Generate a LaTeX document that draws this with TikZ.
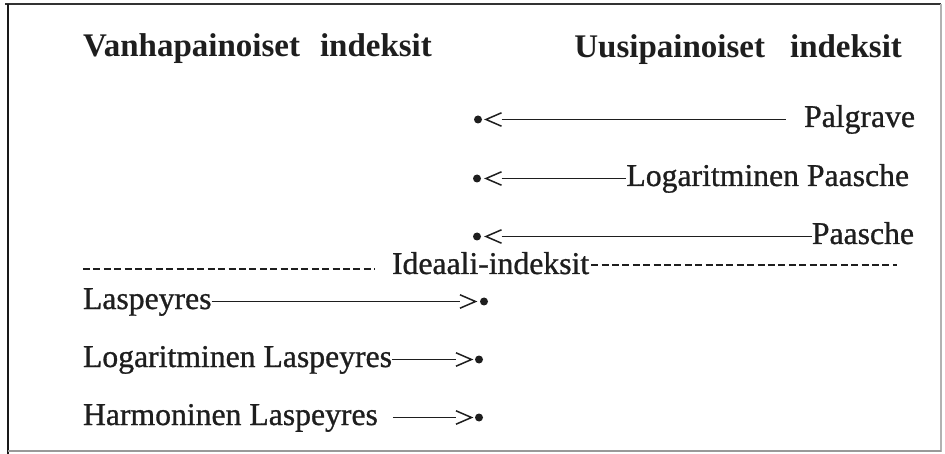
\documentclass[tikz,border=0pt]{standalone}
\usepackage{fontspec}
\setmainfont{Liberation Serif}
\newfontfamily\labelfont[FakeBold=0.9]{Liberation Serif}
\definecolor{ink}{RGB}{30,30,30}
\begin{document}
\begin{tikzpicture}[x=1pt,y=-1pt,
  every node/.style={inner sep=0pt, outer sep=0pt, text=ink},
  heading/.style={font=\fontsize{33}{40}\selectfont\bfseries},
  lbl/.style={font=\labelfont\fontsize{31.7}{38}\selectfont, text height=15pt, text depth=0pt},
  dot/.style={circle, fill=ink, minimum size=8pt},
  chev/.style={draw=ink, line width=1.5pt, line join=miter},
  conn/.style={draw=ink, line width=1.3pt},
  rulerow/.style={draw=ink, line width=1.6pt, dash pattern=on 7pt off 3.4pt},
]
\useasboundingbox (0,0) rectangle (945,454);

% frame
\draw[line width=2pt, draw=black!80] (5,4) -- (941,4);
\draw[line width=2.2pt, draw=black!90] (8,4) -- (8,454);
\draw[line width=1.5pt, draw=black!30] (941,4) -- (941,452);
\draw[line width=1.5pt, draw=black!40] (8,451) -- (941,451);

% column headings
\node[heading, anchor=base west] (old) at (83,57) {Vanhapainoiset\hspace{20pt}indeksit};
\node[heading, anchor=base east] (new) at (902,58) {Uusipainoiset\hspace{25pt}indeksit};

% new-weighted indices (pointing left)
\node[lbl, anchor=base east] (palgrave) at (915,127) {Palgrave};
\node[dot] (b1) at (478,119.5) {};
\coordinate (c1) at (501.5,119.5);
\draw[chev] (c1) ++(0,-6.7) -- ++(-15.5,6.7) -- ++(15.5,6.7);
\draw[conn, shorten >=18pt] (c1) -- (palgrave.west);

\node[lbl, anchor=base east] (logpaasche) at (909,186) {Logaritminen Paasche};
\node[dot] (b2) at (477,178.5) {};
\coordinate (c2) at (501.5,178.5);
\draw[chev] (c2) ++(0,-6.7) -- ++(-15.5,6.7) -- ++(15.5,6.7);
\draw[conn] (c2) -- (logpaasche.west);

\node[lbl, anchor=base east] (paasche) at (914,244) {Paasche};
\node[dot] (b3) at (477,236.5) {};
\coordinate (c3) at (501.5,236.5);
\draw[chev] (c3) ++(0,-6.7) -- ++(-15.5,6.7) -- ++(15.5,6.7);
\draw[conn] (c3) -- (paasche.west);

% ideal indices divider
\node[lbl, anchor=base west] (ideal) at (392,274) {Ideaali-indeksit};
\coordinate (dl) at (83,269);
\coordinate (dr) at (897,265);
\draw[rulerow, shorten >=17pt] (dl) -- (dl -| ideal.west);
\draw[rulerow, shorten <=2pt] (ideal.east |- dr) -- (dr);

% old-weighted indices (pointing right)
\node[lbl, anchor=base west] (lasp) at (83,309) {Laspeyres};
\node[dot] (f1) at (484,301.5) {};
\coordinate (g1) at (460,301.5);
\draw[chev] (g1) ++(0,-6.7) -- ++(15.5,6.7) -- ++(-15.5,6.7);
\draw[conn] (lasp.east) -- (g1);

\node[lbl, anchor=base west] (loglasp) at (83,367) {Logaritminen Laspeyres};
\node[dot] (f2) at (479,359.5) {};
\coordinate (g2) at (456,359.5);
\draw[chev] (g2) ++(0,-6.7) -- ++(15.5,6.7) -- ++(-15.5,6.7);
\draw[conn] (loglasp.east) -- (g2);

\node[lbl, anchor=base west] (harmlasp) at (83,425) {Harmoninen Laspeyres};
\node[dot] (f3) at (479,417.5) {};
\coordinate (g3) at (456,417.5);
\draw[chev] (g3) ++(0,-6.7) -- ++(15.5,6.7) -- ++(-15.5,6.7);
\draw[conn, shorten <=15pt] (harmlasp.east) -- (g3);
\end{tikzpicture}
\end{document}
